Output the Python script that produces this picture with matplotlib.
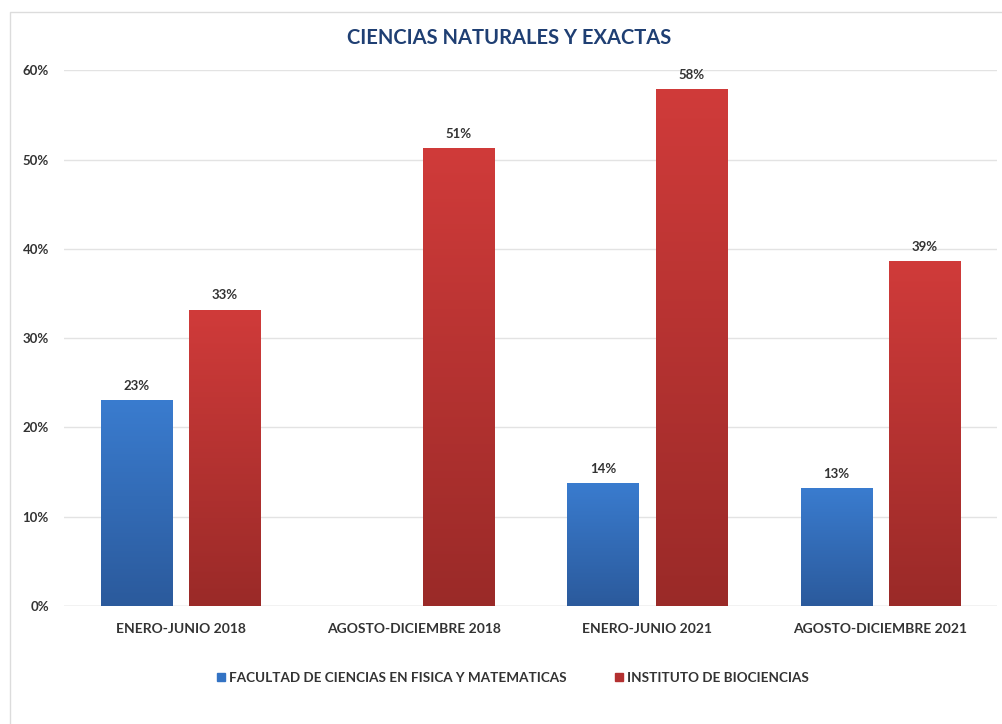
import numpy as np
import matplotlib
matplotlib.use("Agg")
import matplotlib.pyplot as plt
from matplotlib.colors import LinearSegmentedColormap
from matplotlib.patches import Rectangle

plt.rcParams['font.family'] = ['Lato', 'DejaVu Sans']

periods = ["ENERO-JUNIO 2018", "AGOSTO-DICIEMBRE 2018", "ENERO-JUNIO 2021", "AGOSTO-DICIEMBRE 2021"]
fcfm = [23.1, 0.0, 13.8, 13.2]
ibio = [33.2, 51.3, 57.9, 38.6]
fcfm_labels = ["23%", "", "14%", "13%"]
ibio_labels = ["33%", "51%", "58%", "39%"]
series_names = ["FACULTAD DE CIENCIAS EN FISICA Y MATEMATICAS", "INSTITUTO DE BIOCIENCIAS"]
yticks = [0, 10, 20, 30, 40, 50, 60]

blue_cmap = LinearSegmentedColormap.from_list("b", ["#2b5a9c", "#3a7ccf"])
red_cmap = LinearSegmentedColormap.from_list("r", ["#9a2a28", "#d03b3a"])

fig = plt.figure(figsize=(10.02, 7.24), dpi=100)
ax = fig.add_axes([0.064, 0.163, 0.931, 0.74])

x = np.arange(len(periods))
w = 0.305
off = 0.19


def grad_bars(xs, vals, cmap, color):
    bars = ax.bar(xs, vals, width=w, color=color, zorder=2)
    grad = np.linspace(0, 1, 256).reshape(-1, 1)
    for b in bars:
        if b.get_height() <= 0:
            continue
        x0, y0 = b.get_x(), b.get_y()
        im = ax.imshow(grad, cmap=cmap, origin="lower", aspect="auto",
                       extent=[x0, x0 + b.get_width(), y0, y0 + b.get_height()], zorder=3)
        im.set_clip_path(b)
    return bars


b1 = grad_bars(x - off, fcfm, blue_cmap, "#3373c4")
b2 = grad_bars(x + off, ibio, red_cmap, "#c03333")

for xi, v, lab in zip(x - off, fcfm, fcfm_labels):
    if lab:
        ax.text(xi, v + 0.9, lab, ha="center", va="bottom", fontsize=9.5, fontweight="bold", color="#333333")
for xi, v, lab in zip(x + off, ibio, ibio_labels):
    ax.text(xi, v + 0.9, lab, ha="center", va="bottom", fontsize=9.5, fontweight="bold", color="#333333")

ax.set_xlim(-0.5, len(periods) - 0.5)
ax.set_ylim(0, 60)
ax.set_yticks(yticks)
ax.set_yticklabels([f"{t}%" for t in yticks], fontsize=9.5, fontweight="bold", color="#333333")
ax.set_xticks(x)
ax.set_xticklabels(periods, fontsize=10, fontweight="bold", color="#333333")
ax.tick_params(length=0)
ax.tick_params(axis="x", pad=12)
ax.tick_params(axis="y", pad=11)
ax.grid(axis="y", color="#e3e3e3", linewidth=1, zorder=0)
ax.set_axisbelow(True)
for s in ax.spines.values():
    s.set_visible(False)
ax.axhline(0, color="#d9d9d9", linewidth=1, zorder=1)

fig.text(0.508, 0.948, "CIENCIAS NATURALES Y EXACTAS", ha="center", va="center",
         fontsize=14.5, fontweight="bold", color="#1f3f73")

handles = [Rectangle((0, 0), 1, 1, color="#3373c4"), Rectangle((0, 0), 1, 1, color="#b33030")]
fig.legend(handles, series_names, loc="center", bbox_to_anchor=(0.512, 0.064), ncol=2,
           frameon=False, handlelength=0.6, handleheight=0.6,
           handletextpad=0.3, columnspacing=3.6,
           prop={"weight": "bold", "size": 9.7})
for t in fig.legends[0].get_texts():
    t.set_color("#333333")

fig.patches.append(Rectangle((0.01, -0.1), 1.2, 1.083, transform=fig.transFigure,
                             fill=False, edgecolor="#dcdcdc", linewidth=1))

fig.savefig("out.png", dpi=100)
